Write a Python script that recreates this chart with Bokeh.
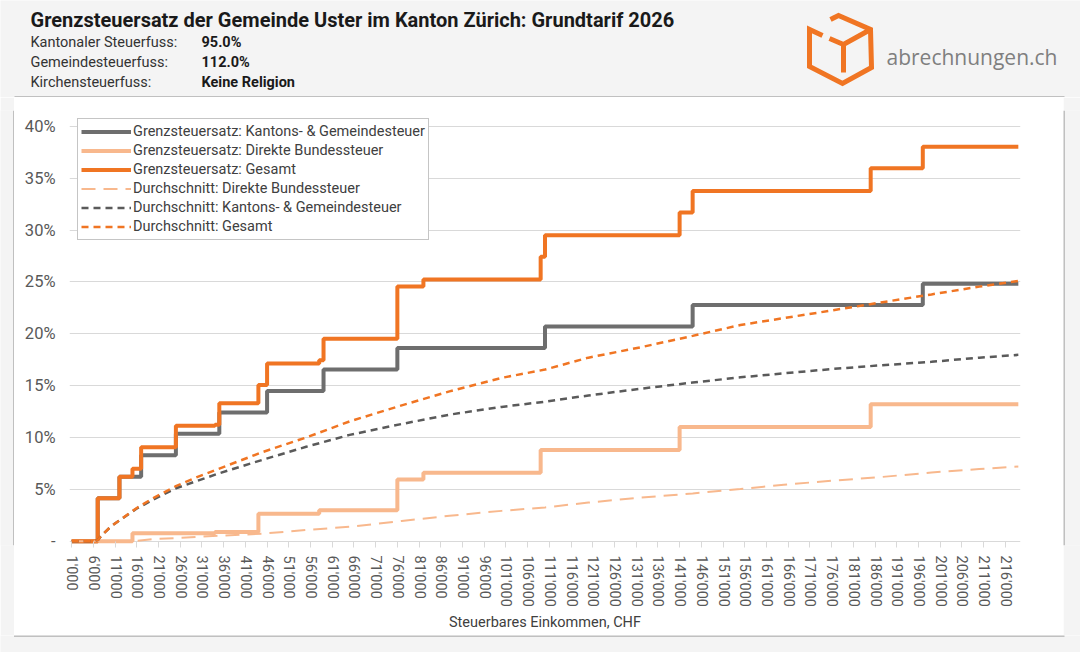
from bokeh.plotting import figure
from bokeh.layouts import column, row
from bokeh.models import Range1d, FixedTicker, Legend, LegendItem
from bokeh.core.properties import value
from bokeh.embed import file_html
from bokeh.resources import INLINE

# ---------------- data (CHF, %) ----------------
last_income = 219000
tick_incomes = list(range(1000, 216001, 5000))

kg_start = [1000, 7000, 12000, 17000, 25000, 35000, 46000, 59000, 76000, 110000, 144000, 197000]
kg_rate = [0.00, 4.14, 6.21, 8.28, 10.35, 12.42, 14.49, 16.56, 18.63, 20.70, 22.77, 24.84]

fed_start = [1000, 15000, 34000, 44000, 58000, 76000, 82000, 109000, 141000, 185000]
fed_rate = [0.00, 0.77, 0.88, 2.64, 2.97, 5.94, 6.60, 8.80, 11.00, 13.20]

tot_start = [1000, 7000, 12000, 15000, 17000, 25000, 34000, 35000, 44000, 46000, 58000,
             59000, 76000, 82000, 109000, 110000, 141000, 144000, 185000, 197000]
tot_rate = [0.00, 4.14, 6.21, 6.98, 9.05, 11.12, 11.23, 13.30, 15.06, 17.13, 17.46,
            19.53, 24.57, 25.23, 27.43, 29.50, 31.70, 33.77, 35.97, 38.04]

avg_fed_income = [1000, 15000, 20000, 25000, 35000, 45000, 55000, 65000, 77000, 88000, 100000,
                  110000, 120000, 132000, 144000, 155000, 165000, 176000, 187000, 199000, 210000, 219000]
avg_fed = [0.0, 0.0, 0.2, 0.3, 0.52, 0.72, 1.08, 1.38, 1.95, 2.45, 2.92,
           3.25, 3.72, 4.2, 4.6, 5.02, 5.45, 5.82, 6.17, 6.62, 6.95, 7.2]

avg_kg_income = [1000, 6000, 7000, 8000, 10000, 12000, 16000, 20000, 25000, 35000, 45000, 55000,
                 65000, 77000, 88000, 100000, 110000, 120000, 132000, 144000, 155000, 164000,
                 176000, 187000, 199000, 210000, 219000]
avg_kg = [0.0, 0.0, 0.1, 0.6, 1.4, 2.0, 3.15, 4.05, 5.1, 6.55, 7.85, 9.1,
          10.25, 11.3, 12.2, 12.95, 13.45, 14.05, 14.7, 15.3, 15.8, 16.15,
          16.6, 16.95, 17.3, 17.7, 17.97]

avg_tot_income = [1000, 6000, 7000, 8000, 10000, 12000, 16000, 20000, 25000, 30000, 35000, 45000,
                  55000, 65000, 77000, 88000, 100000, 110000, 120000, 132000, 144000, 155000,
                  164000, 176000, 187000, 199000, 210000, 219000]
avg_tot = [0.0, 0.0, 0.1, 0.6, 1.4, 2.0, 3.2, 4.2, 5.3, 6.2, 7.0, 8.6,
           10.0, 11.55, 13.1, 14.45, 15.75, 16.55, 17.7, 18.7, 19.8, 20.85,
           21.45, 22.25, 23.0, 23.8, 24.55, 25.1]

y_ticks = [0, 5, 10, 15, 20, 25, 30, 35, 40]

title_text = "Grenzsteuersatz der Gemeinde Uster im Kanton Zürich: Grundtarif 2026"
info_keys = ["Kantonaler Steuerfuss:", "Gemeindesteuerfuss:", "Kirchensteuerfuss:"]
info_vals = ["95.0%", "112.0%", "Keine Religion"]
logo_text = "abrechnungen.ch"
legend_labels = ["Grenzsteuersatz: Kantons- & Gemeindesteuer",
                 "Grenzsteuersatz: Direkte Bundessteuer",
                 "Grenzsteuersatz: Gesamt",
                 "Durchschnitt: Direkte Bundessteuer",
                 "Durchschnitt: Kantons- & Gemeindesteuer",
                 "Durchschnitt: Gesamt"]

# ---------------- styling ----------------
C_GRAY = "#6E6E6E"
C_LIGHT = "#F8B88D"
C_ORANGE = "#F07523"
C_DGRAY = "#5A5A5A"
C_PAGE = "#F4F4F4"
C_BORDER = "#8C8C8C"
FONT = "Roboto"


def deco_fig(w, h):
    f = figure(width=w, height=h, x_range=Range1d(0, w), y_range=Range1d(h, 0),
               toolbar_location=None, output_backend="svg",
               min_border=0, border_fill_color=C_PAGE, background_fill_color=C_PAGE,
               outline_line_color=None)
    f.axis.visible = False
    f.grid.visible = False
    return f


# ---------------- header ----------------
head = deco_fig(1080, 97)
head.text(x=[30], y=[19], text=[title_text], text_font=value(FONT), text_font_style="bold",
          text_font_size="20px", text_color="#1A1A1A", text_baseline="middle")
head.text(x=[30, 30, 30], y=[42, 62, 82], text=info_keys, text_font=value(FONT),
          text_font_size="14.5px", text_color="#333333", text_baseline="middle")
head.text(x=[201, 201, 201], y=[42, 62, 82], text=info_vals, text_font=value(FONT),
          text_font_style="bold", text_font_size="14.5px", text_color="#1A1A1A",
          text_baseline="middle")
head.text(x=[886], y=[56], text=[logo_text], text_font=value("Open Sans"),
          text_font_size="21px", text_color="#7F7F7F", text_baseline="middle")
head.multi_line(xs=[[830, 838, 870, 871, 842, 809, 809, 822],
                    [829, 843, 870],
                    [843, 843]],
                ys=[[19, 15, 29, 67, 83, 66, 29, 35],
                    [38, 44, 29],
                    [44, 72]],
                line_color=C_ORANGE, line_width=5, line_join="miter")
head.segment(x0=[14], y0=[96.5], x1=[1064], y1=[96.5], line_color=C_BORDER, line_width=1)

left_pad = deco_fig(14, 538)
left_pad.segment(x0=[13.5], y0=[0], x1=[13.5], y1=[538], line_color=C_BORDER, line_width=1)
right_pad = deco_fig(17, 538)
right_pad.segment(x0=[0.5], y0=[0], x1=[0.5], y1=[538], line_color=C_BORDER, line_width=1)
bottom_pad = deco_fig(1080, 17)
bottom_pad.segment(x0=[13.5], y0=[0.5], x1=[1064], y1=[0.5], line_color=C_BORDER, line_width=1)

# ---------------- chart ----------------
p = figure(width=1049, height=538,
           x_range=Range1d(500, last_income + 500), y_range=Range1d(-0.42, 41.54),
           toolbar_location=None, output_backend="svg",
           min_border_left=55, min_border_right=43, min_border_top=13, min_border_bottom=90,
           border_fill_color="white", background_fill_color="white",
           outline_line_color=None)

p.yaxis.ticker = FixedTicker(ticks=y_ticks)
p.yaxis.major_label_overrides = {t: ("-" if t == 0 else f"{t}%") for t in y_ticks}
p.yaxis.axis_line_color = None
p.yaxis.major_tick_line_color = None
p.yaxis.minor_tick_line_color = None
p.yaxis.major_tick_out = 0
p.yaxis.major_label_standoff = 14
p.yaxis.major_label_text_font = FONT
p.yaxis.major_label_text_font_size = "16.5px"
p.yaxis.major_label_text_color = "#595959"

p.xaxis.ticker = FixedTicker(ticks=tick_incomes)
p.xaxis.major_label_overrides = {t: f"{t:,}".replace(",", "'") for t in tick_incomes}
p.xaxis.axis_line_color = None
p.xaxis.major_tick_line_color = "#D9D9D9"
p.xaxis.minor_tick_line_color = None
p.xaxis.major_tick_in = 4
p.xaxis.major_tick_out = 2
p.xaxis.major_label_orientation = "vertical"
p.xaxis.major_label_standoff = 8
p.xaxis.major_label_text_font = FONT
p.xaxis.major_label_text_font_size = "14.5px"
p.xaxis.major_label_text_color = "#595959"
p.xaxis.axis_label = "Steuerbares Einkommen, CHF"
p.xaxis.axis_label_text_font = FONT
p.xaxis.axis_label_text_font_size = "14.5px"
p.xaxis.axis_label_text_font_style = "normal"
p.xaxis.axis_label_text_color = "#404040"
p.xaxis.axis_label_standoff = 4

p.xgrid.grid_line_color = None
p.ygrid.ticker = FixedTicker(ticks=y_ticks)
p.ygrid.grid_line_color = "#D9D9D9"
p.ygrid.grid_line_width = 1

r_kg = p.step(kg_start + [last_income], kg_rate + [kg_rate[-1]], mode="after",
              line_color=C_GRAY, line_width=4)
r_fed = p.step(fed_start + [last_income], fed_rate + [fed_rate[-1]], mode="after",
               line_color=C_LIGHT, line_width=4)
r_tot = p.step(tot_start + [last_income], tot_rate + [tot_rate[-1]], mode="after",
               line_color=C_ORANGE, line_width=4)
r_afed = p.line(avg_fed_income, avg_fed, line_color=C_LIGHT, line_width=2,
                line_dash="14 8")
r_akg = p.line(avg_kg_income, avg_kg, line_color=C_DGRAY, line_width=2.5,
               line_dash="7 5")
r_atot = p.line(avg_tot_income, avg_tot, line_color=C_ORANGE, line_width=2.5,
                line_dash="7 5")

legend = Legend(items=[LegendItem(label=lab, renderers=[r]) for lab, r in
                       zip(legend_labels, [r_kg, r_fed, r_tot, r_afed, r_akg, r_atot])],
                location=(8, 305), margin=0, padding=3, spacing=0,
                glyph_width=50, glyph_height=19, label_height=19, label_standoff=2,
                label_text_font=FONT, label_text_font_size="14.5px",
                label_text_color="#404040",
                border_line_color=C_BORDER, border_line_width=1,
                background_fill_color="white", background_fill_alpha=1.0)
p.add_layout(legend)

layout = column(head, row(left_pad, p, right_pad), bottom_pad)

open("out.html", "w").write(file_html(layout, INLINE))
